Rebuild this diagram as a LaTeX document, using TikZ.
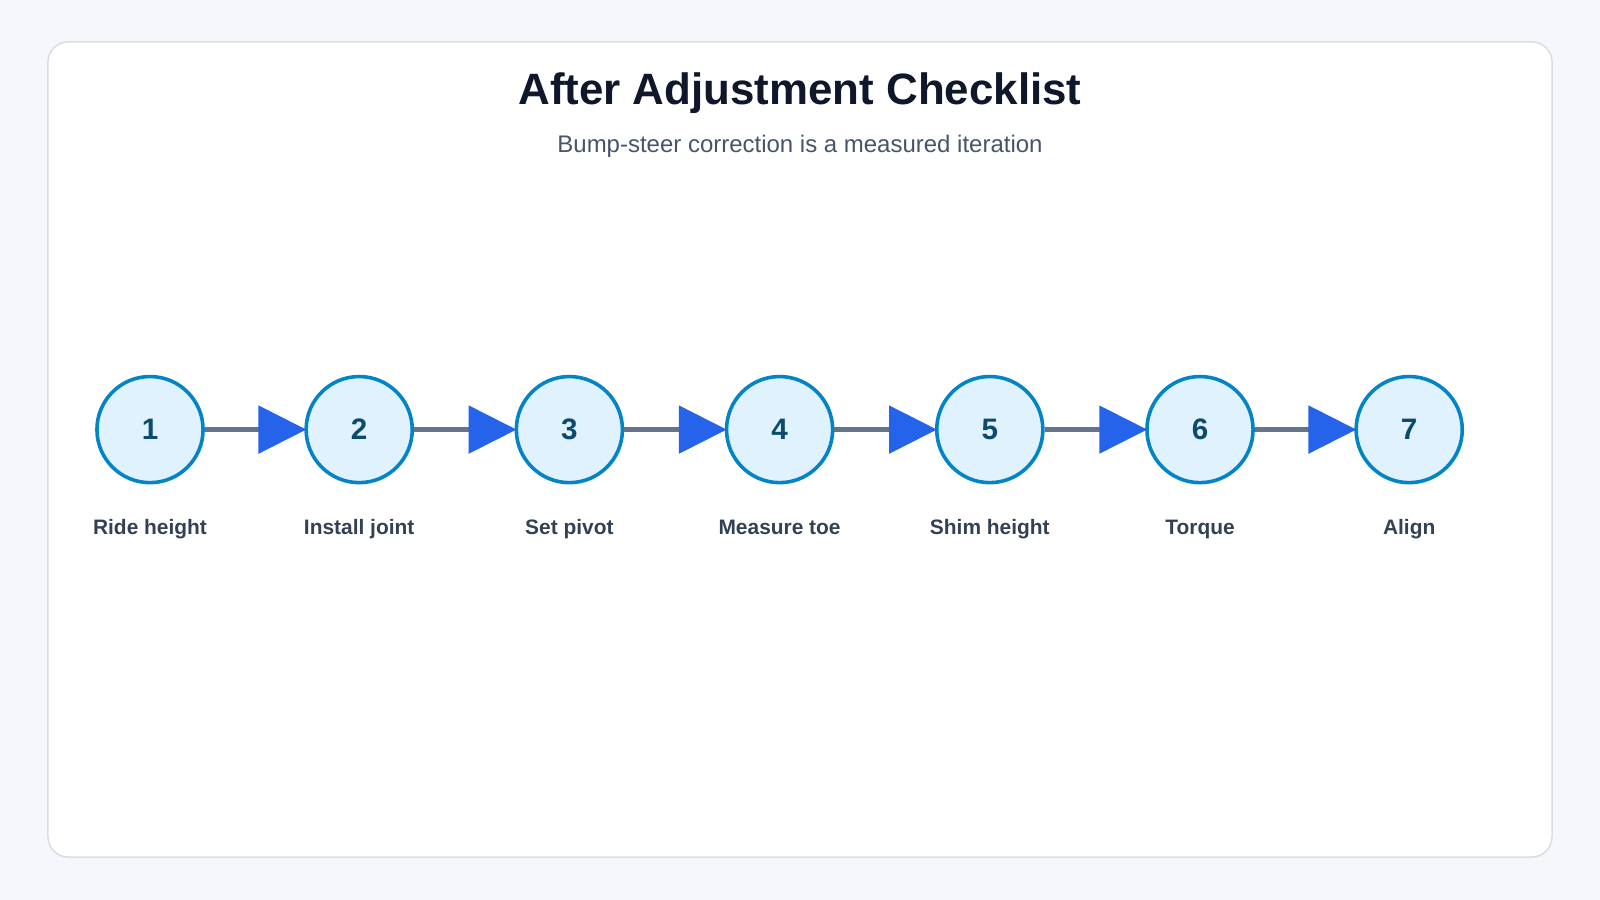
\documentclass[tikz,border=0pt]{standalone}
\usepackage{fontspec}
\setmainfont{Liberation Sans}
\usetikzlibrary{arrows.meta}
\definecolor{bg}{HTML}{F5F7FB}
\definecolor{frame}{HTML}{D9DEE6}
\definecolor{cfill}{HTML}{E0F2FE}
\definecolor{cline}{HTML}{0284C7}
\definecolor{ctext}{HTML}{0C4A6E}
\definecolor{conn}{HTML}{64748B}
\definecolor{tip}{HTML}{2563EB}
\definecolor{lab}{HTML}{334155}
\definecolor{ttl}{HTML}{0F172A}
\definecolor{sub}{HTML}{475569}
\begin{document}
\begin{tikzpicture}[x=1pt,y=-1pt,
  stepnode/.style={circle,draw=cline,line width=3.5pt,fill=cfill,minimum size=104pt,inner sep=0pt,
    text=ctext,font=\fontsize{29}{34}\selectfont\bfseries},
  lbl/.style={text=lab,font=\fontsize{20.5}{24}\selectfont\bfseries},
  link/.style={draw=conn,line width=5.5pt,-{Triangle[length=47pt,width=46pt,fill=tip,color=tip]},shorten >=-2pt}]
\fill[bg] (0,0) rectangle (1568,882);
\useasboundingbox (0,0) rectangle (1568,882);
\draw[frame,fill=white,line width=1.5pt,rounded corners=20pt] (47,41) rectangle (1521,840);
\node[text=ttl,font=\fontsize{43}{50}\selectfont\bfseries] (title) at (784,91) {After Adjustment Checklist};
\node[text=sub,font=\fontsize{23.5}{28}\selectfont] (subtitle) at (784,143) {Bump-steer correction is a measured iteration};
\foreach \i/\x/\t in {1/147/Ride height,2/352/Install joint,3/558/Set pivot,4/764/Measure toe,5/970/Shim height,6/1176/Torque,7/1381/Align}{
  \node[stepnode] (n\i) at (\x,421) {\i};
  \node[lbl,anchor=base] (l\i) at (\x,524) {\t};
}
\foreach \a/\b in {1/2,2/3,3/4,4/5,5/6,6/7}{
  \draw[link] (n\a) -- (n\b);
}
\end{tikzpicture}
\end{document}
